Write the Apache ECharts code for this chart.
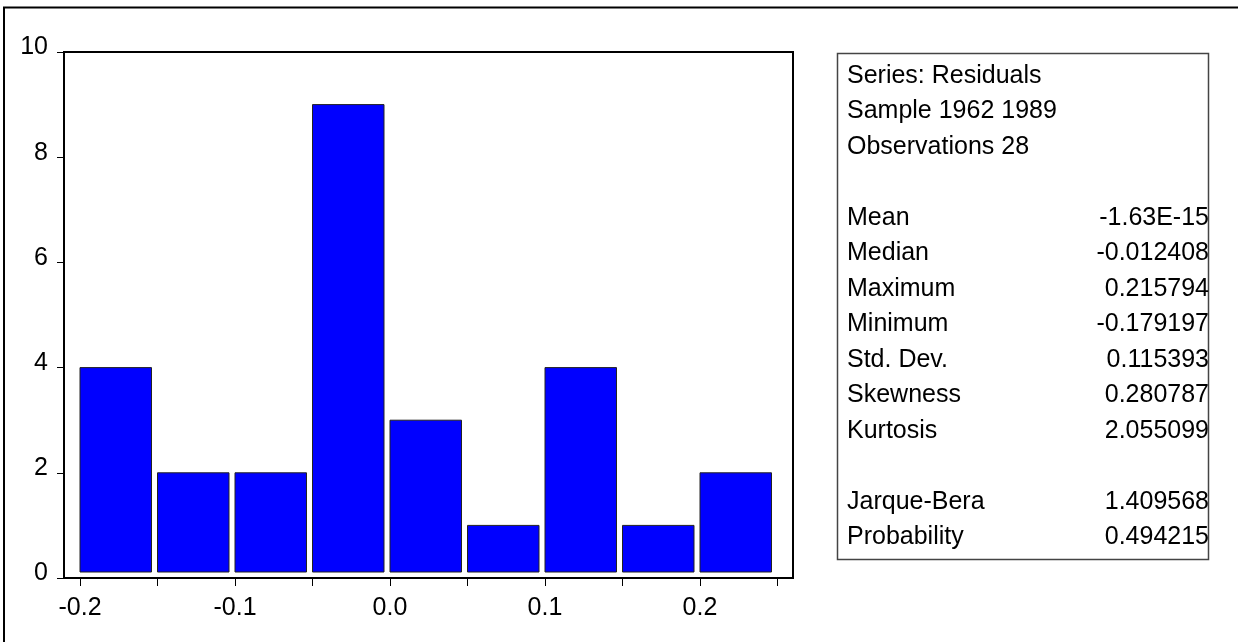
<!DOCTYPE html>
<html>
<head>
<meta charset="utf-8">
<script src="https://cdn.jsdelivr.net/npm/echarts@6/dist/echarts.min.js"></script>
<style>
html,body{margin:0;padding:0;background:#fff;}
#chart{width:1238px;height:642px;}
</style>
</head>
<body>
<div id="chart"></div>
<script>
// ---- data ----
const binEdges = [-0.2, -0.15, -0.1, -0.05, 0.0, 0.05, 0.1, 0.15, 0.2, 0.25];
const counts = [4, 2, 2, 9, 3, 1, 4, 1, 2];
const yTicks = [0, 2, 4, 6, 8, 10];
const headerLines = ['Series: Residuals', 'Sample 1962 1989', 'Observations 28'];
const statLabels = ['Mean', 'Median', 'Maximum', 'Minimum', 'Std. Dev.', 'Skewness', 'Kurtosis'];
const statValues = ['-1.63E-15', '-0.012408', '0.215794', '-0.179197', '0.115393', '0.280787', '2.055099'];
const testLabels = ['Jarque-Bera', 'Probability'];
const testValues = ['1.409568', '0.494215'];

const FONT = "'Liberation Sans', Arial, sans-serif";
const FS = 25;

const chart = echarts.init(document.getElementById('chart'));

const barData = counts.map((c, i) => [binEdges[i], binEdges[i + 1], c]);

// stats box text
const texts = [];
const lineY0 = 76, lineStep = 35.5, labelX = 847, valueX = 1209;
function addLine(idx, label, value) {
  const y = lineY0 + lineStep * idx;
  texts.push({type: 'text', x: labelX, y: y, style: {text: label, font: FS + 'px ' + FONT, fill: '#000', textAlign: 'left', textVerticalAlign: 'middle'}});
  if (value !== undefined) {
    texts.push({type: 'text', x: valueX, y: y, style: {text: value, font: FS + 'px ' + FONT, fill: '#000', textAlign: 'right', textVerticalAlign: 'middle'}});
  }
}
headerLines.forEach((t, i) => addLine(i, t));
statLabels.forEach((t, i) => addLine(4 + i, t, statValues[i]));
testLabels.forEach((t, i) => addLine(12 + i, t, testValues[i]));

const option = {
  animation: false,
  backgroundColor: '#fff',
  grid: [
    {left: 64, top: 52, width: 729, height: 526, show: true, borderColor: '#000', borderWidth: 2, backgroundColor: 'transparent'},
    {left: 80, top: 52, width: 697.5, height: 526, show: false}
  ],
  xAxis: [
    {gridIndex: 0, type: 'value', min: 0, max: 1, show: false},
    {
      gridIndex: 1, type: 'value', min: -0.2, max: 0.25, interval: 0.05,
      axisLine: {show: false},
      axisTick: {show: true, inside: false, length: 8, lineStyle: {color: '#000', width: 1}},
      splitLine: {show: false},
      axisLabel: {
        show: true, margin: 18, color: '#000', fontFamily: FONT, fontSize: FS,
        formatter: function (v) {
          const k = Math.round(v * 20);
          if (Math.abs(k) % 2 === 1) return '';
          const r = Math.round(v * 10) / 10;
          return r === 0 ? '0.0' : r.toFixed(1);
        }
      }
    }
  ],
  yAxis: [
    {
      gridIndex: 0, type: 'value', min: 0, max: 10, interval: 2,
      axisLine: {show: false},
      axisTick: {show: true, inside: false, length: 7, lineStyle: {color: '#000', width: 1}},
      splitLine: {show: false},
      axisLabel: {
        show: true, margin: 16, color: '#000', fontFamily: FONT, fontSize: FS,
        verticalAlign: 'bottom', lineHeight: 9,
        formatter: function (v) { return yTicks.indexOf(v) >= 0 ? String(v) : ''; }
      }
    },
    {gridIndex: 1, type: 'value', min: 0, max: 10, show: false}
  ],
  series: [{
    type: 'custom',
    xAxisIndex: 1, yAxisIndex: 1,
    encode: {x: [0, 1], y: 2},
    data: barData,
    renderItem: function (params, api) {
      const p0 = api.coord([api.value(0), 0]);
      const p1 = api.coord([api.value(1), api.value(2)]);
      const gap = 6;
      return {
        type: 'rect',
        shape: {x: p0[0], y: p1[1], width: p1[0] - p0[0] - gap, height: (p0[1] - gap) - p1[1]},
        style: {fill: '#0000FF', stroke: '#222', lineWidth: 1}
      };
    }
  }],
  graphic: [
    {type: 'rect', shape: {x: 4, y: 7.5, width: 1300, height: 700}, style: {fill: 'none', stroke: '#000', lineWidth: 2}, silent: true},
    {type: 'rect', shape: {x: 837.5, y: 53.5, width: 371, height: 506}, style: {fill: 'none', stroke: '#444', lineWidth: 1.5}, silent: true}
  ].concat(texts)
};
chart.setOption(option);
</script>
</body>
</html>
